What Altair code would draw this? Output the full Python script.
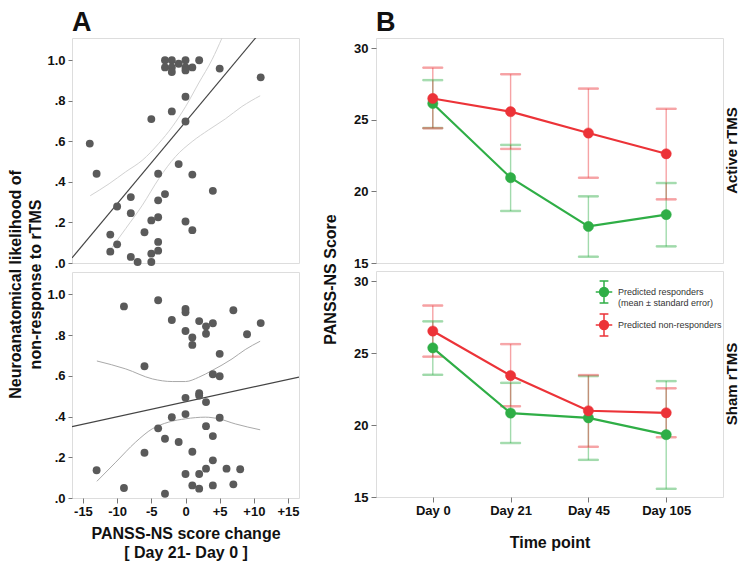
import altair as alt
import pandas as pd

FONT = "Liberation Sans, Arial, sans-serif"

# ---------------- Panel A : scatter (top = active, bottom = sham) ----------------
a_top_x = [-3, -2, -1, 0, 2, -3, -2, -2, 0, 0, 1, 5, 11, 0, -2, -5, 0, -14, -13, -1,
           -4, 1, 4, -8, -10, -3, -4, -8, -4, -5, 0, -11, -6, 1, -10, -4, -11, -4, -5, -8,
           -7, -5]
a_top_y = [1.0, 1.0, 0.983, 1.0, 1.0, 0.965, 0.965, 0.942, 0.965, 0.95, 0.965, 0.959, 0.916,
           0.82, 0.748, 0.71, 0.698, 0.589, 0.44, 0.488, 0.44, 0.436, 0.356, 0.325, 0.279,
           0.34, 0.309, 0.246, 0.226, 0.21, 0.205, 0.14, 0.152, 0.162, 0.092, 0.104, 0.056,
           0.061, 0.046, 0.03, 0.005, 0.005]
a_top_fit_x = [-16.6, 16.6]
a_top_fit_y = [0.025, 1.367]
a_top_up_x = [-13.93, -11.17, -8.74, -6.31, -3.88, -1.94, 0.0, 1.94, 3.88, 5.34]
a_top_up_y = [0.332, 0.391, 0.450, 0.507, 0.591, 0.672, 0.771, 0.888, 1.003, 1.110]
a_top_lo_x = [-11.41, -8.74, -6.31, -3.88, -1.46, 0.97, 3.40, 5.83, 8.25, 10.92]
a_top_lo_y = [0.046, 0.170, 0.285, 0.417, 0.525, 0.599, 0.657, 0.711, 0.772, 0.825]

a_bot_x = [-9, -4, 0, 0, 7, -2, 2, 3, 4, 11, 0, 3, 1, 9, 1, 5, -6, 4, 5, 2,
           2, 0, 3, -2, 0, 5, -4, 3, -3, -1, 4, -6, 1, 4, -13, 0, 2, 3, 6, 8,
           1, 2, 4, 7, -9, -3]
a_bot_y = [0.941, 0.971, 0.928, 0.912, 0.922, 0.874, 0.869, 0.843, 0.858, 0.859,
           0.82, 0.807, 0.788, 0.804, 0.752, 0.708, 0.647, 0.608, 0.598, 0.515,
           0.503, 0.492, 0.471, 0.397, 0.412, 0.394, 0.342, 0.353, 0.291, 0.275,
           0.304, 0.222, 0.227, 0.185, 0.136, 0.118, 0.118, 0.144, 0.144, 0.141,
           0.062, 0.046, 0.062, 0.067, 0.049, 0.021]
a_bot_fit_x = [-16.6, 16.6]
a_bot_fit_y = [0.350, 0.594]
a_bot_up_x = [-12.96, -8.74, -4.85, -1.94, 0.0, 1.94, 3.88, 6.8, 8.74, 10.92]
a_bot_up_y = [0.673, 0.634, 0.585, 0.572, 0.572, 0.593, 0.626, 0.683, 0.729, 0.770]
a_bot_lo_x = [-12.96, -10.19, -7.28, -4.85, -2.43, 0.0, 2.91, 4.85, 7.28, 10.92]
a_bot_lo_y = [0.082, 0.176, 0.275, 0.340, 0.373, 0.389, 0.397, 0.389, 0.364, 0.335]

a_x_ticks = [-15, -10, -5, 0, 5, 10, 15]
a_y_ticks = [0.0, 0.2, 0.4, 0.6, 0.8, 1.0]

# ---------------- Panel B : PANSS-NS over time ----------------
days = ["Day 0", "Day 21", "Day 45", "Day 105"]
series = ["Predicted responders", "Predicted non-responders"]
colors = ["#2fae46", "#ec3338"]
row_labels = ["Active rTMS", "Sham rTMS"]

active_resp_mean = [26.13, 20.95, 17.55, 18.38]
active_resp_lo = [24.42, 18.63, 15.44, 16.16]
active_resp_hi = [27.76, 23.24, 19.65, 20.58]
active_non_mean = [26.48, 25.56, 24.07, 22.62]
active_non_lo = [24.40, 22.96, 20.95, 19.44]
active_non_hi = [28.63, 28.17, 27.17, 25.76]

sham_resp_mean = [25.36, 20.83, 20.50, 19.33]
sham_resp_lo = [23.49, 18.75, 17.58, 15.57]
sham_resp_hi = [27.20, 22.93, 23.40, 23.05]
sham_non_mean = [26.53, 23.44, 20.99, 20.85]
sham_non_lo = [24.75, 21.30, 18.49, 19.15]
sham_non_hi = [28.30, 25.62, 23.47, 22.55]

b_y_ticks = [15, 20, 25, 30]

# ---------------- sizes ----------------
WA, WB, H_TOP, H_BOT = 227, 347, 225, 226


def lines_df(xs_list, ys_list, names):
    rows = []
    for xs, ys, n in zip(xs_list, ys_list, names):
        for i, (xv, yv) in enumerate(zip(xs, ys)):
            rows.append({"x": xv, "y": yv, "curve": n, "i": i})
    return pd.DataFrame(rows)


def panel_a(px, py, fx, fy, ux, uy, lx, ly, show_x, ci_color, h):
    xs = alt.Scale(domain=[-16.6, 16.6], nice=False)
    ys = alt.Scale(domain=[0, 1.11], nice=False)
    if show_x:
        xaxis = alt.Axis(values=a_x_ticks,
                         labelExpr="datum.value > 0 ? '+' + datum.value : '' + datum.value",
                         title=["PANSS-NS score change", "[ Day 21- Day 0 ]"],
                         grid=False, domain=False, tickColor="#777", tickSize=5,
                         labelFont=FONT, labelFontSize=13, labelFontWeight="bold",
                         labelColor="#111", labelPadding=2,
                         titleFont=FONT, titleFontSize=16, titleFontWeight="bold",
                         titleColor="#111", titlePadding=7, titleLineHeight=19)
    else:
        xaxis = None
    yaxis = alt.Axis(values=a_y_ticks,
                     labelExpr="replace(format(datum.value, '.1f'), '0.', '.')",
                     title=None, grid=False, domain=False, tickColor="#777", tickSize=4,
                     labelFont=FONT, labelFontSize=13, labelFontWeight="bold",
                     labelColor="#111", labelPadding=3)
    X = alt.X("x:Q", scale=xs, axis=xaxis)
    Y = alt.Y("y:Q", scale=ys, axis=yaxis)
    pts = alt.Chart(pd.DataFrame({"x": px, "y": py})).mark_circle(
        size=62, color="#5a5a5a", opacity=1).encode(x=X, y=Y)
    ci = alt.Chart(lines_df([ux, lx], [uy, ly], ["upper", "lower"])).mark_line(
        color=ci_color, strokeWidth=1, clip=True, interpolate="monotone").encode(
        x=X, y=Y, detail="curve:N", order="i:Q")
    fit = alt.Chart(pd.DataFrame({"x": fx, "y": fy})).mark_line(
        color="#444444", strokeWidth=1.2, clip=True).encode(x=X, y=Y)
    return alt.layer(ci, fit, pts).properties(width=WA, height=h)


LEG_PATH = ("M-0.75,0L0.75,0M0,-1L0,1M-0.4,-1L0.4,-1M-0.4,1L0.4,1"
            "M0.4,0A0.4,0.4,0,1,1,-0.4,0A0.4,0.4,0,1,1,0.4,0Z")


def panel_b(means, los, his, label, show_x, show_legend, h):
    rows = []
    for s, m, lo, hi in zip(series, means, los, his):
        for i, d in enumerate(days):
            rows.append({"day": d, "idx": i, "series": s, "mean": m[i], "lo": lo[i], "hi": hi[i]})
    df = pd.DataFrame(rows)
    xs = alt.Scale(type="point", domain=days, padding=0.73)
    ys = alt.Scale(domain=[15, 30.7], nice=False, zero=False)
    if show_x:
        xaxis = alt.Axis(title="Time point", labelAngle=0, grid=False, domain=False,
                         tickColor="#777", tickSize=5,
                         labelFont=FONT, labelFontSize=13, labelFontWeight="bold",
                         labelColor="#111", labelPadding=2,
                         titleFont=FONT, titleFontSize=16, titleFontWeight="bold",
                         titleColor="#111", titlePadding=17)
    else:
        xaxis = None
    yaxis = alt.Axis(values=b_y_ticks, title=None, grid=False, domain=False,
                     tickColor="#777", tickSize=5,
                     labelFont=FONT, labelFontSize=13, labelFontWeight="bold",
                     labelColor="#111", labelPadding=3)
    X = alt.X("day:O", scale=xs, axis=xaxis, sort=days)
    if show_legend:
        leg = alt.Legend(title=None, orient="none", legendX=216, legendY=9,
                         symbolType=LEG_PATH, symbolSize=484, symbolStrokeWidth=1.5,
                         symbolOpacity=1, labelFont=FONT,
                         labelFontSize=9, labelColor="#333", labelOffset=2,
                         rowPadding=3, labelLimit=200,
                         labelExpr="datum.label == 'Predicted responders' ? "
                                   "['Predicted responders', '(mean \u00b1 standard error)'] : datum.label")
    else:
        leg = None
    fill_sc = alt.Scale(domain=series, range=colors)
    stroke_sc = alt.Scale(domain=series, range=colors)
    S = alt.Stroke("series:N", scale=stroke_sc, legend=leg, sort=series)
    F = alt.Fill("series:N", scale=fill_sc, legend=leg, sort=series)

    bars = alt.Chart(df).mark_rule(strokeWidth=1.4, opacity=0.45).encode(
        x=X, y=alt.Y("lo:Q", scale=ys, axis=yaxis), y2="hi:Q", stroke=S)
    cap_lo = alt.Chart(df).mark_tick(size=20, thickness=1.4, opacity=0.45).encode(
        x=X, y=alt.Y("lo:Q", scale=ys, axis=yaxis), fill=F, stroke=S)
    cap_hi = alt.Chart(df).mark_tick(size=20, thickness=1.4, opacity=0.45).encode(
        x=X, y=alt.Y("hi:Q", scale=ys, axis=yaxis), fill=F, stroke=S)
    line = alt.Chart(df).mark_line(strokeWidth=2.2).encode(
        x=X, y=alt.Y("mean:Q", scale=ys, axis=yaxis), stroke=S, order="idx:Q",
        detail="series:N")
    pts = alt.Chart(df).mark_point(filled=True, size=105, opacity=1, strokeWidth=0.5).encode(
        x=X, y=alt.Y("mean:Q", scale=ys, axis=yaxis), fill=F, stroke=S)
    txt = alt.Chart(pd.DataFrame({"label": [label]})).mark_text(
        angle=270, font=FONT, fontSize=15,
        fontWeight="bold", color="#111", align="center", baseline="middle").encode(
        x=alt.value(WB + 9), y=alt.value(h / 2), text="label:N")
    return alt.layer(bars, cap_lo, cap_hi, line, pts, txt).properties(width=WB, height=h)


title_big = dict(anchor="start", frame="group", font=FONT, fontSize=27, fontWeight="bold",
                 color="#111", offset=1)

a_top = panel_a(a_top_x, a_top_y, a_top_fit_x, a_top_fit_y, a_top_up_x, a_top_up_y,
                a_top_lo_x, a_top_lo_y, False, "#d2d2d2", H_TOP).properties(
    title=alt.TitleParams("A", **title_big))
a_bot = panel_a(a_bot_x, a_bot_y, a_bot_fit_x, a_bot_fit_y, a_bot_up_x, a_bot_up_y,
                a_bot_lo_x, a_bot_lo_y, True, "#a9a9a9", H_BOT)

b_top = panel_b([active_resp_mean, active_non_mean], [active_resp_lo, active_non_lo],
                [active_resp_hi, active_non_hi], row_labels[0], False, False, H_TOP).properties(
    title=alt.TitleParams("B", **title_big))
b_bot = panel_b([sham_resp_mean, sham_non_mean], [sham_resp_lo, sham_non_lo],
                [sham_resp_hi, sham_non_hi], row_labels[1], True, True, H_BOT)

left = alt.vconcat(a_top, a_bot, spacing=9, bounds="flush",
                   title=alt.TitleParams(["Neuroanatomical likelihood of", "non-response to rTMS"],
                                         orient="left", anchor="middle", font=FONT,
                                         fontSize=16, fontWeight="bold", color="#111",
                                         lineHeight=20, offset=2))
right = alt.vconcat(b_top, b_bot, spacing=8, bounds="flush",
                    title=alt.TitleParams("PANSS-NS Score", orient="left", anchor="middle",
                                          font=FONT, fontSize=16, fontWeight="bold",
                                          color="#111", offset=14)).resolve_scale(
    fill="independent", stroke="independent")

chart = alt.hconcat(left, right, spacing=23).properties(
    padding={"left": 0, "top": 0, "right": 0, "bottom": 0}
).configure_view(fill="#f0efee", stroke="#8c8c8c", strokeWidth=1.5).configure(
    background="white")

chart.save("out.html", embed_options={"renderer": "svg", "actions": False})
